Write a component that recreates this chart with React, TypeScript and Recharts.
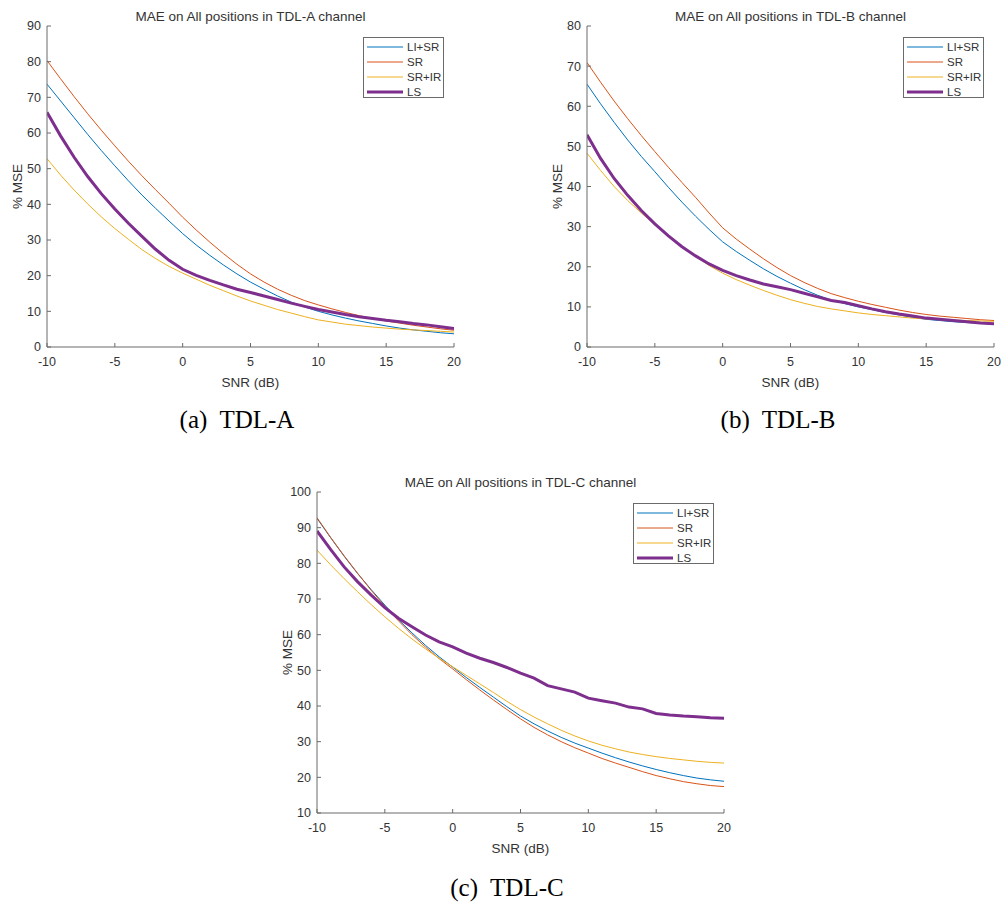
import { LineChart, Line, XAxis, YAxis, Legend } from 'recharts';

const snr = [-10, -9, -8, -7, -6, -5, -4, -3, -2, -1, 0, 1, 2, 3, 4, 5, 6, 7, 8, 9, 10, 11, 12, 13, 14, 15, 16, 17, 18, 19, 20];
const xTicks = [-10, -5, 0, 5, 10, 15, 20];

// TDL-A
const liSrA = [73.7, 69, 64.3, 59.6, 55.1, 50.8, 46.6, 42.6, 38.9, 35.3, 31.8, 28.6, 25.7, 23, 20.5, 18.2, 16.2, 14.3, 12.6, 11.2, 10, 9, 8.1, 7.3, 6.6, 5.9, 5.3, 4.8, 4.4, 4, 3.7];
const srA = [80.3, 75.2, 70.2, 65.4, 60.8, 56.4, 52.1, 48, 44.1, 40.3, 36.4, 32.8, 29.4, 26.2, 23.2, 20.5, 18.2, 16.2, 14.5, 13, 11.8, 10.7, 9.7, 8.8, 8, 7.3, 6.7, 6.1, 5.6, 5.1, 4.7];
const srIrA = [52.8, 48.2, 44, 40.1, 36.5, 33.2, 30.2, 27.3, 24.8, 22.6, 20.7, 19, 17.3, 15.8, 14.3, 12.9, 11.7, 10.5, 9.5, 8.5, 7.6, 7, 6.4, 6, 5.6, 5.3, 5, 4.8, 4.6, 4.4, 4.2];
const lsA = [65.8, 59.2, 53.2, 47.8, 43, 38.7, 34.7, 31, 27.4, 24.3, 21.8, 20.1, 18.7, 17.4, 16.2, 15.3, 14.3, 13.3, 12.3, 11.4, 10.5, 9.8, 9.1, 8.5, 8, 7.5, 7.1, 6.6, 6.2, 5.7, 5.2];

// TDL-B
const liSrB = [65.5, 60.6, 56, 51.6, 47.5, 43.7, 39.8, 36.1, 32.6, 29.3, 26.2, 23.8, 21.6, 19.5, 17.6, 15.9, 14.3, 12.9, 11.7, 10.8, 10, 9.3, 8.6, 8, 7.4, 6.9, 6.6, 6.3, 6.1, 5.9, 5.7];
const srB = [70.9, 66, 61.3, 56.9, 52.7, 48.7, 44.8, 41, 37.3, 33.4, 29.7, 26.9, 24.4, 22, 19.8, 17.8, 16.1, 14.6, 13.3, 12.3, 11.4, 10.6, 9.9, 9.2, 8.6, 8.1, 7.7, 7.4, 7.1, 6.8, 6.6];
const srIrB = [48.3, 44, 40, 36.5, 33.4, 30.5, 27.6, 25, 22.6, 20.3, 18.4, 16.8, 15.4, 14.1, 12.9, 11.8, 10.9, 10.1, 9.5, 9, 8.5, 8.1, 7.8, 7.5, 7.2, 7, 6.8, 6.7, 6.6, 6.5, 6.4];
const lsB = [52.9, 47, 42, 37.8, 34, 30.7, 27.7, 25, 22.7, 20.7, 19.1, 17.8, 16.7, 15.7, 15, 14.3, 13.4, 12.5, 11.6, 11.1, 10.3, 9.5, 8.8, 8.2, 7.7, 7.2, 6.9, 6.6, 6.3, 6, 5.8];

// TDL-C
const liSrC = [92.6, 87.2, 82, 77.1, 72.6, 68.3, 64.2, 60.5, 57, 53.8, 50.9, 48, 45.2, 42.5, 39.8, 37.2, 35, 33, 31.2, 29.6, 28.2, 26.8, 25.5, 24.3, 23.2, 22.2, 21.3, 20.5, 19.8, 19.3, 18.9];
const srC = [92.8, 87.3, 82.1, 77.2, 72.4, 68, 63.9, 60, 56.5, 53.3, 50.4, 47.4, 44.5, 41.7, 39, 36.4, 34, 31.9, 30, 28.3, 26.8, 25.3, 24, 22.8, 21.6, 20.5, 19.6, 18.8, 18.2, 17.7, 17.4];
const srIrC = [83.7, 79.6, 75.7, 72, 68.4, 65, 61.8, 58.8, 56, 53.4, 51, 48.6, 46.2, 43.8, 41.3, 39, 36.9, 35, 33.2, 31.6, 30.2, 29, 28, 27.1, 26.4, 25.8, 25.3, 24.9, 24.5, 24.2, 24];
const lsC = [89.1, 83.9, 79, 74.8, 71.1, 67.6, 64.6, 62.2, 59.9, 58, 56.6, 54.8, 53.4, 52.2, 50.8, 49.2, 47.8, 45.7, 44.8, 43.9, 42.2, 41.5, 40.8, 39.7, 39.2, 37.9, 37.5, 37.2, 37, 36.7, 36.6];

const seriesNames = ['LI+SR', 'SR', 'SR+IR', 'LS'];
const seriesKeys = ['liSr', 'sr', 'srIr', 'ls'];
const seriesColors = ['#0072BD', '#D95319', '#EDB120', '#7E2F8E'];
const seriesWidths = [1, 1, 1, 3];

const axisColor = '#6a6a6a';
const textColor = '#333333';
const font = '"Liberation Sans", Arial, sans-serif';

function buildRows(cols: number[][]) {
  return snr.map((x, i) => ({
    snr: x,
    liSr: cols[0][i],
    sr: cols[1][i],
    srIr: cols[2][i],
    ls: cols[3][i],
  }));
}

// MATLAB-style boxed legend, kept in plotting order
function MatlabLegend(props: any) {
  const payload = [...(props.payload || [])].sort(
    (a: any, b: any) => seriesKeys.indexOf(a.dataKey) - seriesKeys.indexOf(b.dataKey)
  );
  return (
    <div
      style={{
        width: 81,
        height: 61,
        boxSizing: 'border-box',
        border: `1px solid ${axisColor}`,
        background: '#fff',
        fontFamily: font,
        fontSize: 11.5,
        color: textColor,
        position: 'relative',
      }}
    >
      {payload.map((entry: any, i: number) => {
        const idx = seriesKeys.indexOf(entry.dataKey);
        return (
          <div key={i} style={{ position: 'absolute', left: 3, top: 2 + i * 15, height: 14, display: 'flex', alignItems: 'center' }}>
            <svg width={36} height={6} style={{ display: 'block' }}>
              <line x1={0} y1={3} x2={36} y2={3} stroke={seriesColors[idx]} strokeWidth={seriesWidths[idx]} />
            </svg>
            <span style={{ marginLeft: 4, lineHeight: '14px', whiteSpace: 'nowrap' }}>{seriesNames[idx]}</span>
          </div>
        );
      })}
    </div>
  );
}

interface PanelProps {
  left: number;
  top: number;
  width: number;
  title: string;
  cols: number[][];
  yDomain: [number, number];
  yTicks: number[];
}

function Panel({ left, top, width, title, cols, yDomain, yTicks }: PanelProps) {
  const data = buildRows(cols);
  const tickStyle = { fill: textColor, fontSize: 12.5, fontFamily: font };
  return (
    <div style={{ position: 'absolute', left, top, width, height: 400 }}>
      <div
        style={{
          position: 'absolute',
          left: (47 + 454) / 2,
          top: 17,
          transform: 'translate(-50%, -50%)',
          fontFamily: font,
          fontSize: 13.5,
          color: textColor,
          whiteSpace: 'nowrap',
          lineHeight: 1,
        }}
      >
        {title}
      </div>
      <LineChart width={width} height={400} data={data} margin={{ top: 26, right: width - 454, bottom: 0, left: 0 }}>
        <XAxis
          xAxisId="b"
          type="number"
          dataKey="snr"
          domain={[-10, 20]}
          ticks={xTicks}
          allowDataOverflow
          height={53}
          tickSize={-4}
          tickMargin={14}
          stroke={axisColor}
          tick={tickStyle}
          label={{ value: 'SNR (dB)', position: 'insideBottom', offset: 13, fill: textColor, fontSize: 13.5, fontFamily: font }}
        />
        <XAxis
          xAxisId="t"
          orientation="top"
          type="number"
          dataKey="snr"
          domain={[-10, 20]}
          ticks={xTicks}
          allowDataOverflow
          height={0}
          tickSize={-4}
          tick={false}
          stroke={axisColor}
        />
        <YAxis
          yAxisId="l"
          type="number"
          domain={yDomain}
          ticks={yTicks}
          allowDataOverflow
          width={47}
          tickSize={-4}
          tickMargin={10}
          stroke={axisColor}
          tick={tickStyle}
          label={{ value: '% MSE', angle: -90, position: 'insideLeft', offset: 17, fill: textColor, fontSize: 13.5, fontFamily: font, style: { textAnchor: 'middle' } }}
        />
        <YAxis
          yAxisId="r"
          orientation="right"
          type="number"
          domain={yDomain}
          ticks={yTicks}
          allowDataOverflow
          width={0}
          tickSize={-4}
          tick={false}
          stroke={axisColor}
        />
        <Legend
          layout="horizontal"
          verticalAlign="middle"
          align="center"
          content={<MatlabLegend />}
          wrapperStyle={{ left: 363, top: 37, width: 81, height: 61 }}
        />
        {seriesKeys.map((k, i) => (
          <Line
            key={k}
            xAxisId="b"
            yAxisId="l"
            type="linear"
            dataKey={k}
            name={seriesNames[i]}
            stroke={seriesColors[i]}
            strokeWidth={seriesWidths[i]}
            dot={false}
            activeDot={false}
            isAnimationActive={false}
          />
        ))}
      </LineChart>
    </div>
  );
}

const captionStyle: React.CSSProperties = {
  position: 'absolute',
  transform: 'translate(-50%, -50%)',
  fontFamily: '"Liberation Serif", "Times New Roman", serif',
  fontSize: 25,
  color: '#000',
  whiteSpace: 'pre',
  lineHeight: 1,
};

export default function App() {
  return (
    <div style={{ position: 'absolute', left: 0, top: 0, width: 1005, height: 905, background: '#fff', overflow: 'hidden' }}>
      <Panel left={0} top={0} width={470} title="MAE on All positions in TDL-A channel" cols={[liSrA, srA, srIrA, lsA]} yDomain={[0, 90]} yTicks={[0, 10, 20, 30, 40, 50, 60, 70, 80, 90]} />
      <Panel left={540} top={0} width={465} title="MAE on All positions in TDL-B channel" cols={[liSrB, srB, srIrB, lsB]} yDomain={[0, 80]} yTicks={[0, 10, 20, 30, 40, 50, 60, 70, 80]} />
      <Panel left={270} top={466} width={470} title="MAE on All positions in TDL-C channel" cols={[liSrC, srC, srIrC, lsC]} yDomain={[10, 100]} yTicks={[10, 20, 30, 40, 50, 60, 70, 80, 90, 100]} />
      <div style={{ ...captionStyle, left: 237, top: 419 }}>{'(a)  TDL-A'}</div>
      <div style={{ ...captionStyle, left: 778, top: 419 }}>{'(b)  TDL-B'}</div>
      <div style={{ ...captionStyle, left: 507, top: 887 }}>{'(c)  TDL-C'}</div>
    </div>
  );
}
